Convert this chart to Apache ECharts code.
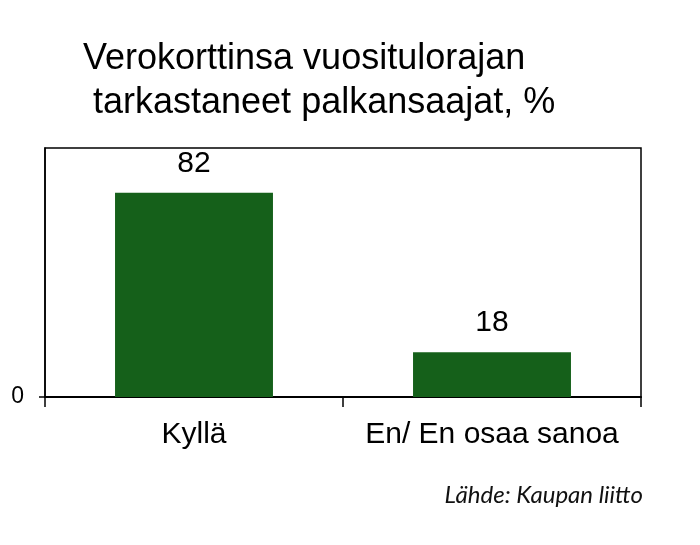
<!DOCTYPE html>
<html>
<head>
<meta charset="utf-8">
<script src="https://cdn.jsdelivr.net/npm/echarts@6/dist/echarts.min.js"></script>
<style>
  html, body { margin: 0; padding: 0; background: #fff; }
  #chartContainer { width: 700px; height: 545px; }
</style>
</head>
<body>
<div id="chartContainer"></div>
<script>
// data
var titleLines = ['Verokorttinsa vuositulorajan', 'tarkastaneet palkansaajat, %'];
var categories = ['Kyllä', 'En/ En osaa sanoa'];
var seriesValues = [82, 18];
var yTickLabels = [0];
var sourceText = 'Lähde: Kaupan liitto';

var font = '"Liberation Sans", Arial, sans-serif';
var option = null;

function initOption() {
	option = {
		backgroundColor: '#ffffff',
		animation: false,
		title: [{
			text: titleLines[0],
			left: 83,
			top: 41,
			padding: 0,
			textStyle: { fontFamily: font, fontSize: 36, fontWeight: 'normal', color: '#000' }
		}, {
			text: titleLines[1],
			left: 93,
			top: 85,
			padding: 0,
			textStyle: { fontFamily: font, fontSize: 36, fontWeight: 'normal', color: '#000' }
		}, {
			text: sourceText,
			right: 57,
			top: 483,
			padding: 0,
			textStyle: { fontFamily: 'Lato, sans-serif', fontSize: 24, fontStyle: 'italic', fontWeight: 'normal', color: '#111' }
		}],
		grid: {
			left: 45,
			right: 59,
			top: 148,
			bottom: 148,
			show: true,
			borderColor: '#000',
			borderWidth: 1.5,
			backgroundColor: 'transparent'
		},
		xAxis: {
			type: 'category',
			data: categories,
			axisLine: { show: true, lineStyle: { color: '#000', width: 2 } },
			axisTick: { show: true, length: 10, alignWithLabel: false, lineStyle: { color: '#000', width: 1.5 } },
			axisLabel: { fontFamily: font, fontSize: 30, color: '#000', margin: 23, interval: 0 },
			splitLine: { show: false }
		},
		yAxis: {
			type: 'value',
			min: 0,
			max: 100,
			interval: 100,
			axisLine: { show: true, lineStyle: { color: '#000', width: 1.5 } },
			axisTick: { show: true, length: 6, customValues: yTickLabels, lineStyle: { color: '#000', width: 1.5 } },
			axisLabel: { fontFamily: font, fontSize: 23, color: '#000', margin: 21, customValues: yTickLabels },
			splitLine: { show: false }
		},
		series: [{
			type: 'bar',
			data: seriesValues,
			barWidth: '53%',
			itemStyle: { color: '#15601a' },
			label: {
				show: true,
				position: 'top',
				distance: 14,
				fontFamily: font,
				fontSize: 30,
				color: '#000'
			}
		}]
	};
}

initOption();
var chartContainer = echarts.init(document.getElementById('chartContainer'));
chartContainer.setOption(option);
</script>
</body>
</html>
